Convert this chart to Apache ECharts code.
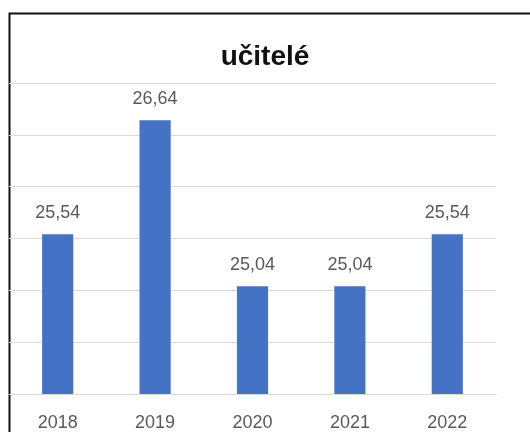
<!DOCTYPE html>
<html>
<head>
<meta charset="utf-8">
<title>učitelé</title>
<script src="https://cdn.jsdelivr.net/npm/echarts@6/dist/echarts.min.js"></script>
<style>
  html, body { margin: 0; padding: 0; background: #fff; }
  #chart { width: 530px; height: 432px; }
</style>
</head>
<body>
<div id="chart"></div>
<script>
// data
var years = ['2018', '2019', '2020', '2021', '2022']
var teachers = [25.54, 26.64, 25.04, 25.04, 25.54]
var yMin = 24
var yMax = 27
var yStep = 0.5

var chart = echarts.init(document.getElementById('chart'))

chart.setOption({
  animation: false,
  textStyle: { fontFamily: 'Liberation Sans, Arial, sans-serif' },
  title: {
    text: 'učitelé',
    left: 'center',
    top: 38,
    textStyle: { fontSize: 28, fontWeight: 'bold', color: '#111' }
  },
  // chart frame, cut off at the right and bottom edges like the picture
  graphic: [{
    type: 'rect',
    left: 7,
    top: 11,
    shape: { width: 700, height: 700 },
    style: { fill: 'none', stroke: '#111', lineWidth: 2 },
    silent: true
  }],
  grid: {
    left: 9,
    right: 34,
    top: 83,
    bottom: 37
  },
  xAxis: {
    type: 'category',
    data: years,
    axisTick: { show: false },
    axisLine: { lineStyle: { color: '#d9d9d9', width: 1 } },
    axisLabel: { color: '#595959', fontSize: 18, margin: 20 }
  },
  yAxis: {
    type: 'value',
    min: yMin,
    max: yMax,
    interval: yStep,
    axisLabel: { show: false },
    axisLine: { show: false },
    axisTick: { show: false },
    splitLine: { lineStyle: { color: '#d9d9d9', width: 1 } }
  },
  series: [{
    type: 'bar',
    data: teachers,
    barWidth: '32%',
    itemStyle: { color: '#4472c4' },
    label: {
      show: true,
      position: 'top',
      distance: 12,
      color: '#595959',
      fontSize: 18,
      formatter: function(p) {
        return p.value.toFixed(2).replace('.', ',')
      }
    }
  }]
})
</script>
</body>
</html>
